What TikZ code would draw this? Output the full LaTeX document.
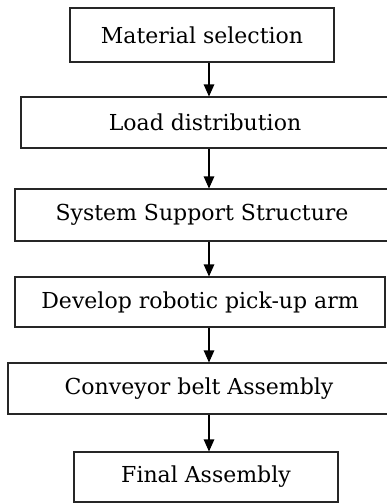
\documentclass[tikz,border=0pt]{standalone}
\usepackage{fontspec}
\setmainfont{DejaVu Serif}
\usetikzlibrary{arrows.meta}
\begin{document}
\begin{tikzpicture}[x=1pt,y=-1pt,
  box/.style={draw=black!85, line width=1.1pt, fill=white, inner sep=0pt, font=\fontsize{22}{24}\selectfont},
  arr/.style={line width=1.1pt, -{Triangle[length=12pt,width=10.5pt]}}]
\useasboundingbox (0,0) rectangle (387,504);
\clip (0,0) rectangle (387,504);
\node[box, minimum width=264pt, minimum height=54pt] (n1) at (202,35) {Material selection};
\node[box, minimum width=368pt, minimum height=51pt] (n2) at (205,122.5) {Load distribution};
\node[box, minimum width=374pt, minimum height=52pt] (n3) at (202,215) {System Support Structure};
\node[box, minimum width=370pt, minimum height=50pt] (n4) at (200,302) {Develop robotic pick-up arm};
\node[box, minimum width=382pt, minimum height=51pt] (n5) at (199,388.5) {Conveyor belt Assembly};
\node[box, minimum width=264pt, minimum height=50pt] (n6) at (206,477) {Final Assembly};
\coordinate (ax) at (209,0);
\draw[arr] (n1.south -| ax) -- (n2.north -| ax);
\draw[arr] (n2.south -| ax) -- (n3.north -| ax);
\draw[arr] (n3.south -| ax) -- (n4.north -| ax);
\draw[arr] (n4.south -| ax) -- (n5.north -| ax);
\draw[arr] (n5.south -| ax) -- (n6.north -| ax);
\end{tikzpicture}
\end{document}
